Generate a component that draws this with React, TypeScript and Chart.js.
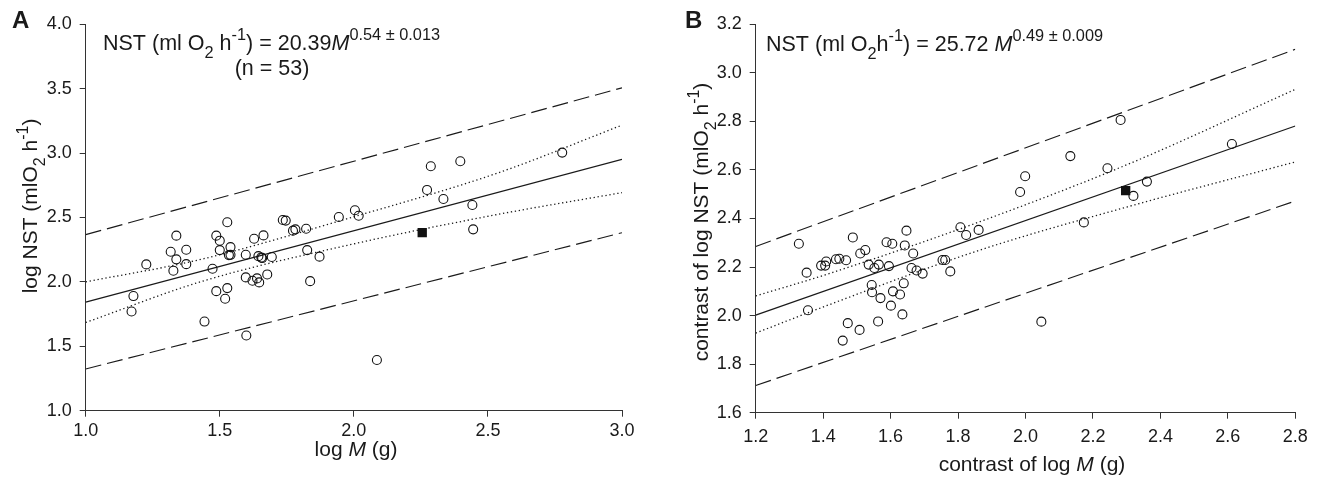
import React, { useEffect, useRef } from 'react';
import { Chart, registerables } from 'chart.js';
Chart.register(...registerables);

const FONT = '"Liberation Sans", Arial, Helvetica, sans-serif';
const INK = '#1a1a1a';
const LINE = '#1a1a1a';

// ---------- Panel A ----------
const aCircleX = [1.178, 1.171, 1.226, 1.317, 1.338, 1.338, 1.327, 1.375, 1.375, 1.443, 1.473, 1.487, 1.5, 1.5, 1.487, 1.52, 1.528, 1.528, 1.54, 1.534, 1.54, 1.597, 1.597, 1.599, 1.622, 1.628, 1.639, 1.647, 1.644, 1.655, 1.658, 1.663, 1.677, 1.694, 1.735, 1.746, 1.773, 1.782, 1.822, 1.826, 1.837, 1.872, 1.944, 2.004, 2.018, 2.086, 2.273, 2.287, 2.334, 2.397, 2.442, 2.445, 2.777];
const aCircleY = [1.89, 1.77, 2.136, 2.234, 2.359, 2.175, 2.087, 2.25, 2.138, 1.692, 2.102, 2.359, 2.32, 2.247, 1.928, 1.869, 1.952, 2.463, 2.27, 2.208, 2.21, 2.211, 2.035, 1.584, 2.009, 2.335, 2.027, 1.996, 2.2, 2.19, 2.185, 2.361, 2.058, 2.193, 2.481, 2.476, 2.398, 2.408, 2.413, 2.247, 2.006, 2.196, 2.504, 2.556, 2.514, 1.394, 2.714, 2.898, 2.644, 2.937, 2.597, 2.408, 3.004];
const aSquareX = [2.255];
const aSquareY = [2.382];
const aLineX = [1.0, 3.0];
const aFitY = [1.843, 2.952];
const aPredUpperY = [2.367, 3.507];
const aPredLowerY = [1.324, 2.382];
const aConfX = [1.0, 1.43, 1.98, 2.54, 3.0];
const aConfUpperY = [2.0, 2.175, 2.494, 2.848, 3.217];
const aConfLowerY = [1.685, 2.002, 2.286, 2.525, 2.693];
const aXTicks = [1.0, 1.5, 2.0, 2.5, 3.0];
const aYTicks = [1.0, 1.5, 2.0, 2.5, 3.0, 3.5, 4.0];

// ---------- Panel B ----------
const bCircleX = [1.328, 1.351, 1.355, 1.394, 1.406, 1.409, 1.438, 1.448, 1.468, 1.473, 1.458, 1.488, 1.508, 1.51, 1.525, 1.535, 1.544, 1.545, 1.552, 1.565, 1.563, 1.57, 1.588, 1.595, 1.605, 1.601, 1.607, 1.628, 1.635, 1.639, 1.642, 1.647, 1.662, 1.667, 1.677, 1.695, 1.754, 1.762, 1.777, 1.807, 1.824, 1.861, 1.984, 1.999, 2.047, 2.133, 2.173, 2.243, 2.282, 2.32, 2.36, 2.612];
const bCircleY = [2.296, 2.177, 2.022, 2.206, 2.206, 2.223, 2.232, 2.234, 2.228, 1.969, 1.897, 2.322, 1.941, 2.256, 2.27, 2.21, 2.126, 2.096, 2.196, 2.21, 1.976, 2.072, 2.302, 2.204, 2.296, 2.041, 2.1, 2.087, 2.005, 2.133, 2.289, 2.35, 2.196, 2.256, 2.186, 2.173, 2.229, 2.229, 2.182, 2.364, 2.332, 2.353, 2.509, 2.574, 1.975, 2.657, 2.384, 2.607, 2.806, 2.493, 2.552, 2.707];
const bSquareX = [2.297];
const bSquareY = [2.515];
const bLineX = [1.2, 2.8];
const bFitY = [2.002, 2.781];
const bPredUpperY = [2.285, 3.097];
const bPredLowerY = [1.712, 2.472];
const bConfX = [1.2, 1.42, 1.865, 2.31, 2.8];
const bConfUpperY = [2.081, 2.174, 2.387, 2.627, 2.932];
const bConfLowerY = [1.928, 2.046, 2.27, 2.451, 2.633];
const bXTicks = [1.2, 1.4, 1.6, 1.8, 2.0, 2.2, 2.4, 2.6, 2.8];
const bYTicks = [1.6, 1.8, 2.0, 2.2, 2.4, 2.6, 2.8, 3.0, 3.2];

type Kind = 'n' | 'i' | 'b' | 'sub' | 'sup';
type Run = [string, Kind];
interface TextItem {
  runs: Run[];
  x: number;
  y: number;
  size: number;
  align?: 'left' | 'center';
  rotate?: boolean;
}

function runFont(kind: Kind, size: number) {
  const s = kind === 'sub' || kind === 'sup' ? size * 0.76 : size;
  const style = kind === 'i' ? 'italic ' : '';
  const weight = kind === 'b' ? 'bold ' : '';
  return `${style}${weight}${s}px ${FONT}`;
}

function makeTextPlugin(items: TextItem[]) {
  return {
    id: 'richText',
    afterDraw(chart: any) {
      const ctx: CanvasRenderingContext2D = chart.ctx;
      ctx.save();
      ctx.fillStyle = INK;
      ctx.textBaseline = 'alphabetic';
      ctx.textAlign = 'left';
      for (const it of items) {
        let total = 0;
        const widths = it.runs.map(([t, k]) => {
          ctx.font = runFont(k, it.size);
          const w = ctx.measureText(t).width;
          total += w;
          return w;
        });
        ctx.save();
        ctx.translate(it.x, it.y);
        if (it.rotate) ctx.rotate(-Math.PI / 2);
        let cx = it.align === 'center' ? -total / 2 : 0;
        it.runs.forEach(([t, k], i) => {
          ctx.font = runFont(k, it.size);
          const dy = k === 'sub' ? it.size * 0.36 : k === 'sup' ? -it.size * 0.45 : 0;
          ctx.fillText(t, cx, dy);
          cx += widths[i];
        });
        ctx.restore();
      }
      ctx.restore();
    },
  };
}

function pts(xs: number[], ys: number[]) {
  return xs.map((x, i) => ({ x, y: ys[i] }));
}

interface PanelCfg {
  circles: { x: number; y: number }[];
  square: { x: number; y: number }[];
  fit: { x: number; y: number }[];
  predU: { x: number; y: number }[];
  predL: { x: number; y: number }[];
  confU: { x: number; y: number }[];
  confL: { x: number; y: number }[];
  xTicks: number[];
  yTicks: number[];
  left: number;
  right: number;
  top: number;
  bottom: number;
  yLabelPad: number;
  xLabelPad: number;
  texts: TextItem[];
}

function lineDs(data: any[], dash: number[], smooth: boolean, width = 1.15) {
  return {
    type: 'line',
    data,
    showLine: true,
    borderColor: LINE,
    borderWidth: width,
    borderDash: dash,
    pointRadius: 0,
    fill: false,
    tension: smooth ? 0.4 : 0,
    cubicInterpolationMode: smooth ? 'monotone' : 'default',
    order: 2,
  };
}

function buildConfig(p: PanelCfg): any {
  const W = 660;
  const H = 480;
  return {
    type: 'scatter',
    data: {
      datasets: [
        lineDs(p.predU, [16, 6], false),
        lineDs(p.predL, [16, 6], false),
        lineDs(p.confU, [1.3, 2.7], true, 1.3),
        lineDs(p.confL, [1.3, 2.7], true, 1.3),
        lineDs(p.fit, [], false, 1.2),
        {
          type: 'scatter',
          data: p.circles,
          pointStyle: 'circle',
          pointRadius: 4.5,
          pointBorderWidth: 1.1,
          pointBorderColor: '#111',
          pointBackgroundColor: 'rgba(0,0,0,0)',
          order: 1,
        },
        {
          type: 'scatter',
          data: p.square,
          pointStyle: 'rect',
          pointRadius: 6.6,
          pointBorderWidth: 0,
          pointBorderColor: '#111',
          pointBackgroundColor: '#111',
          order: 0,
        },
      ],
    },
    options: {
      animation: false,
      responsive: false,
      devicePixelRatio: 1,
      layout: { padding: { left: 0, right: W - p.right, top: p.top, bottom: 0 } },
      plugins: { legend: { display: false }, tooltip: { enabled: false } },
      scales: {
        x: {
          type: 'linear',
          min: p.xTicks[0],
          max: p.xTicks[p.xTicks.length - 1],
          afterBuildTicks: (s: any) => {
            s.ticks = p.xTicks.map((v) => ({ value: v }));
          },
          afterFit: (s: any) => {
            s.height = H - p.bottom;
          },
          ticks: {
            callback: (v: number) => Number(v).toFixed(1),
            font: { family: FONT, size: 18 },
            color: INK,
            padding: p.xLabelPad,
            maxRotation: 0,
            autoSkip: false,
          },
          grid: { display: true, drawOnChartArea: false, drawTicks: true, tickLength: 6, color: '#333' },
          border: { display: true, color: '#333', width: 1 },
        },
        y: {
          type: 'linear',
          min: p.yTicks[0],
          max: p.yTicks[p.yTicks.length - 1],
          afterBuildTicks: (s: any) => {
            s.ticks = p.yTicks.map((v) => ({ value: v }));
          },
          afterFit: (s: any) => {
            s.width = p.left;
          },
          ticks: {
            callback: (v: number) => Number(v).toFixed(1),
            font: { family: FONT, size: 18 },
            color: INK,
            padding: p.yLabelPad,
            autoSkip: false,
          },
          grid: { display: true, drawOnChartArea: false, drawTicks: true, tickLength: 6, color: '#333' },
          border: { display: true, color: '#333', width: 1 },
        },
      },
    },
    plugins: [makeTextPlugin(p.texts)],
  };
}

const panelA: PanelCfg = {
  circles: pts(aCircleX, aCircleY),
  square: pts(aSquareX, aSquareY),
  fit: pts(aLineX, aFitY),
  predU: pts(aLineX, aPredUpperY),
  predL: pts(aLineX, aPredLowerY),
  confU: pts(aConfX, aConfUpperY),
  confL: pts(aConfX, aConfLowerY),
  xTicks: aXTicks,
  yTicks: aYTicks,
  left: 85.7,
  right: 622,
  top: 24.3,
  bottom: 410.7,
  yLabelPad: 8,
  xLabelPad: 4,
  texts: [
    { runs: [['A', 'b']], x: 12, y: 28, size: 24 },
    {
      runs: [
        ['NST (ml O', 'n'],
        ['2', 'sub'],
        [' h', 'n'],
        ['-1', 'sup'],
        [') = 20.39', 'n'],
        ['M', 'i'],
        ['0.54 ± 0.013', 'sup'],
      ],
      x: 103,
      y: 50,
      size: 21.5,
    },
    { runs: [['(n = 53)', 'n']], x: 272, y: 75, size: 21.5, align: 'center' },
    {
      runs: [
        ['log NST (mlO', 'n'],
        ['2', 'sub'],
        [' h', 'n'],
        ['-1', 'sup'],
        [')', 'n'],
      ],
      x: 37,
      y: 206,
      size: 21,
      align: 'center',
      rotate: true,
    },
    { runs: [['log ', 'n'], ['M', 'i'], [' (g)', 'n']], x: 356, y: 456, size: 21, align: 'center' },
  ],
};

const panelB: PanelCfg = {
  circles: pts(bCircleX, bCircleY),
  square: pts(bSquareX, bSquareY),
  fit: pts(bLineX, bFitY),
  predU: pts(bLineX, bPredUpperY),
  predL: pts(bLineX, bPredLowerY),
  confU: pts(bConfX, bConfUpperY),
  confL: pts(bConfX, bConfLowerY),
  xTicks: bXTicks,
  yTicks: bYTicks,
  left: 95.7,
  right: 635.3,
  top: 24.3,
  bottom: 412.7,
  yLabelPad: 8,
  xLabelPad: 8,
  texts: [
    { runs: [['B', 'b']], x: 25, y: 28, size: 24 },
    {
      runs: [
        ['NST (ml O', 'n'],
        ['2', 'sub'],
        ['h', 'n'],
        ['-1', 'sup'],
        [') = 25.72 ', 'n'],
        ['M', 'i'],
        ['0.49 ± 0.009', 'sup'],
      ],
      x: 106,
      y: 51,
      size: 21.5,
    },
    {
      runs: [
        ['contrast of log NST (mlO', 'n'],
        ['2', 'sub'],
        [' h', 'n'],
        ['-1', 'sup'],
        [')', 'n'],
      ],
      x: 48,
      y: 222,
      size: 21,
      align: 'center',
      rotate: true,
    },
    {
      runs: [['contrast of log ', 'n'], ['M', 'i'], [' (g)', 'n']],
      x: 372,
      y: 471,
      size: 21,
      align: 'center',
    },
  ],
};

function Panel({ cfg, left }: { cfg: PanelCfg; left: number }) {
  const ref = useRef<HTMLCanvasElement | null>(null);
  useEffect(() => {
    if (!ref.current) return;
    const chart = new Chart(ref.current, buildConfig(cfg));
    return () => chart.destroy();
  }, [cfg]);
  return (
    <div style={{ position: 'absolute', left, top: 0, width: 660, height: 480 }}>
      <canvas ref={ref} width={660} height={480} style={{ width: 660, height: 480, display: 'block' }} />
    </div>
  );
}

export default function App() {
  return (
    <div
      style={{
        position: 'fixed',
        left: 0,
        top: 0,
        width: 1320,
        height: 480,
        background: '#ffffff',
        overflow: 'hidden',
      }}
    >
      <Panel cfg={panelA} left={0} />
      <Panel cfg={panelB} left={660} />
    </div>
  );
}
